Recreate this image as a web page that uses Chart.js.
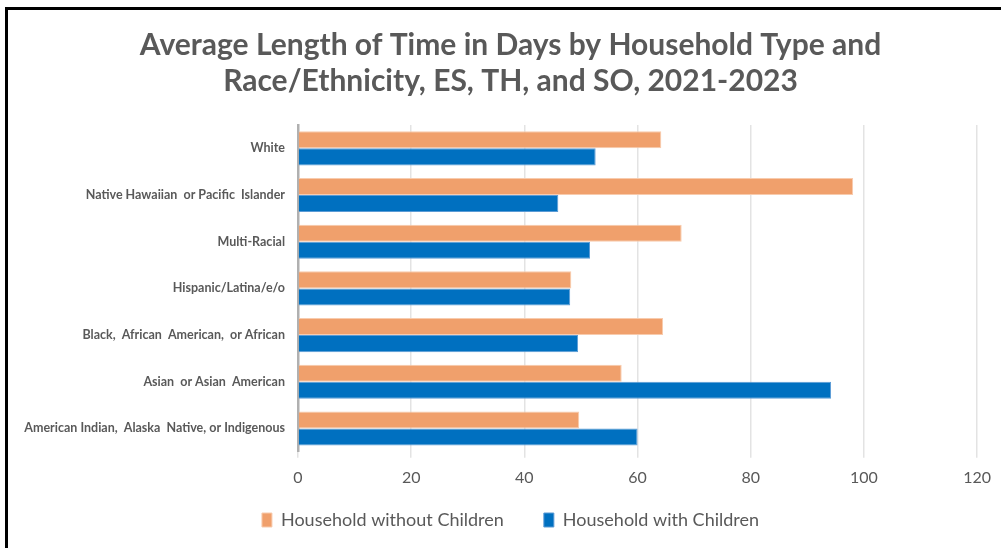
<!DOCTYPE html>
<html>
<head>
<meta charset="utf-8">
<title>Average Length of Time in Days</title>
<script src="https://cdn.jsdelivr.net/npm/chart.js@4/dist/chart.umd.min.js"></script>
<style>
    body {
        margin: 0;
        background: #fff;
        overflow: hidden;
    }
    .frame {
        position: absolute;
        left: 5px;
        top: 7px;
        width: 1100px;
        height: 700px;
        border-top: 3px solid #000;
        border-left: 3px solid #000;
    }
    #los-chart {
        position: absolute;
        left: 0;
        top: 0;
    }
</style>
</head>
<body>
<div class="frame"></div>
<canvas id="los-chart" width="1001" height="548"></canvas>
<script>
// -------------- Data --------------
const groups = [
    "White",
    "Native Hawaiian  or Pacific  Islander",
    "Multi-Racial",
    "Hispanic/Latina/e/o",
    "Black,  African  American,  or African",
    "Asian  or Asian  American",
    "American Indian,  Alaska  Native, or Indigenous"
];
const withoutChildren = [64.2, 98.1, 67.8, 48.3, 64.5, 57.2, 49.7];
const withChildren = [52.6, 46.0, 51.6, 48.1, 49.5, 94.2, 60.0];
const xTicks = [0, 20, 40, 60, 80, 100, 120];

const textGray = '#595959';
const fontName = 'Lato, "Open Sans", sans-serif';

// slide title and legend a bit right, and pull the legend row up under the axis
const shiftBlocks = {
    id: 'shiftBlocks',
    afterLayout(chart) {
        const title = chart.titleBlock;
        const legend = chart.legend;
        title.left += 10;
        title.right += 10;
        legend.left += 10;
        legend.right += 10;
        legend.top -= 26;
        legend.bottom -= 26;
    }
};

// -------------- Bar Graph - los-chart --------------
const losCanvas = document.getElementById('los-chart');

const losData = {
    labels: groups,
    datasets: [{
        label: 'Household without Children',
        data: withoutChildren,
        backgroundColor: '#F0A06C',
        borderColor: '#F8CBAD',
        borderWidth: 1
    }, {
        label: 'Household with Children',
        data: withChildren,
        backgroundColor: '#0070C0',
        borderColor: '#5B9BD5',
        borderWidth: 1
    }]
};

const losOptions = {
    indexAxis: 'y',
    responsive: false,
    animation: false,
    categoryPercentage: 0.73,
    barPercentage: 1.0,
    layout: {
        padding: { left: 13, right: 13, bottom: -17 }
    },
    scales: {
        x: {
            min: xTicks[0],
            max: xTicks[xTicks.length - 1],
            afterBuildTicks: axis => {
                axis.ticks = xTicks.map(v => ({ value: v }));
            },
            grid: {
                color: '#e3e3e3',
                lineWidth: 1.5,
                tickLength: 6
            },
            border: { display: false },
            ticks: {
                color: textGray,
                padding: 10,
                font: { family: fontName, size: 16 }
            }
        },
        y: {
            // fixed width so the plot starts at the same spot whatever the font
            afterFit: axis => {
                axis.width = 285;
            },
            grid: { display: false },
            border: { display: true, color: '#b0b0b0', width: 2.5 },
            ticks: {
                color: textGray,
                padding: 5,
                font: { family: fontName, size: 12.5, weight: 'bold' }
            }
        }
    },
    plugins: {
        title: {
            display: true,
            text: ['Average Length of Time in Days by Household Type and',
                'Race/Ethnicity, ES, TH, and SO, 2021-2023'],
            color: textGray,
            font: { family: fontName, size: 30, weight: 'bold', lineHeight: 1.2 },
            padding: { top: 27, bottom: 26 }
        },
        legend: {
            position: 'bottom',
            labels: {
                color: textGray,
                boxWidth: 10,
                boxHeight: 14,
                padding: 40,
                font: { family: fontName, size: 18 }
            }
        },
        tooltip: { enabled: false }
    }
};

const losChart = new Chart(losCanvas, {
    type: 'bar',
    data: losData,
    options: losOptions,
    plugins: [shiftBlocks]
});
</script>
</body>
</html>
